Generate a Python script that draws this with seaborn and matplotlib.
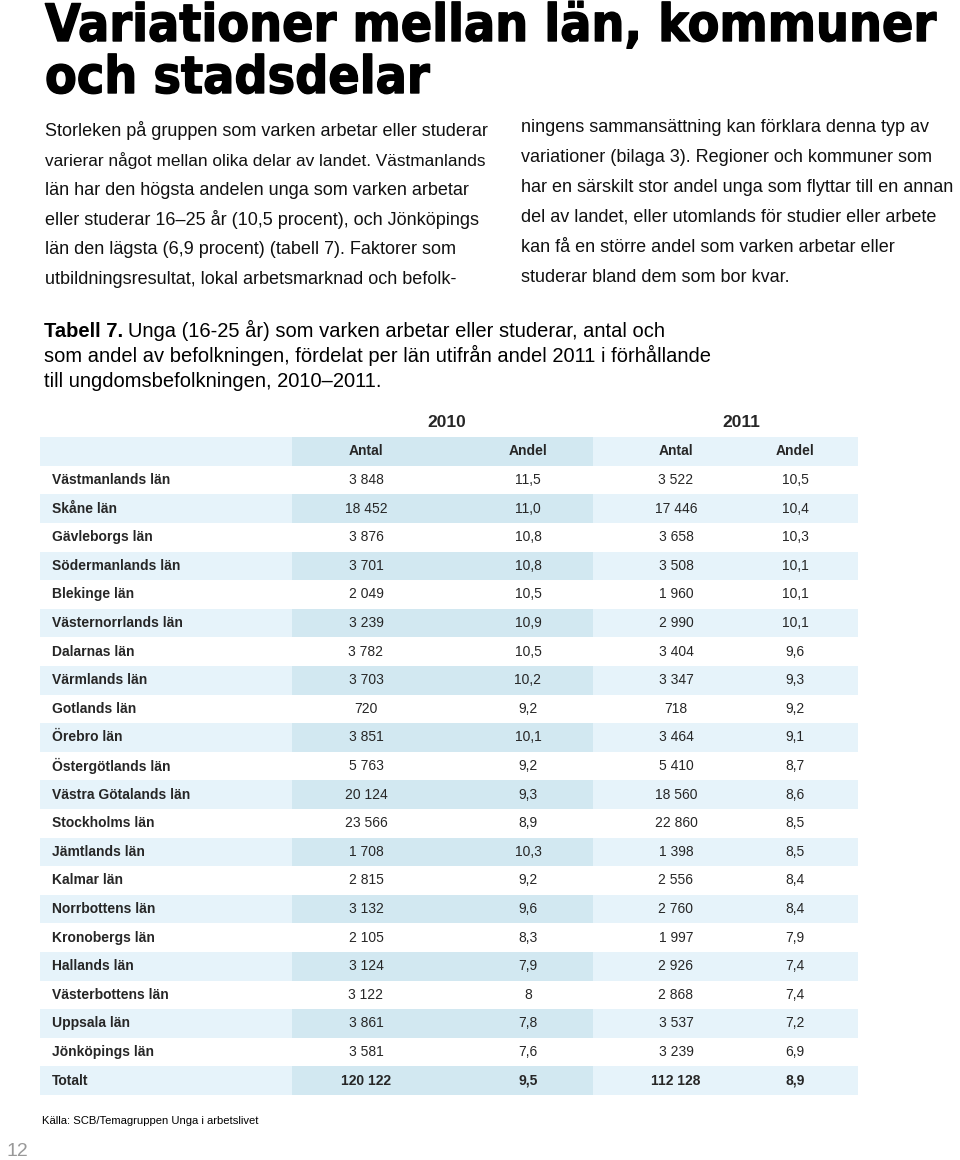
import numpy as np
import pandas as pd
import seaborn as sns
import matplotlib
matplotlib.use("Agg")
import matplotlib.pyplot as plt
import matplotlib.patheffects as pe
from matplotlib import font_manager as fm

# Data (Tabell 7)
lan = ["Västmanlands län", "Skåne län", "Gävleborgs län", "Södermanlands län",
       "Blekinge län", "Västernorrlands län", "Dalarnas län", "Värmlands län",
       "Gotlands län", "Örebro län", "Östergötlands län", "Västra Götalands län",
       "Stockholms län", "Jämtlands län", "Kalmar län", "Norrbottens län",
       "Kronobergs län", "Hallands län", "Västerbottens län", "Uppsala län",
       "Jönköpings län", "Totalt"]
antal_2010 = [3848, 18452, 3876, 3701, 2049, 3239, 3782, 3703, 720, 3851, 5763,
              20124, 23566, 1708, 2815, 3132, 2105, 3124, 3122, 3861, 3581, 120122]
andel_2010 = [11.5, 11.0, 10.8, 10.8, 10.5, 10.9, 10.5, 10.2, 9.2, 10.1, 9.2,
              9.3, 8.9, 10.3, 9.2, 9.6, 8.3, 7.9, 8, 7.8, 7.6, 9.5]
antal_2011 = [3522, 17446, 3658, 3508, 1960, 2990, 3404, 3347, 718, 3464, 5410,
              18560, 22860, 1398, 2556, 2760, 1997, 2926, 2868, 3537, 3239, 112128]
andel_2011 = [10.5, 10.4, 10.3, 10.1, 10.1, 10.1, 9.6, 9.3, 9.2, 9.1, 8.7,
              8.6, 8.5, 8.5, 8.4, 8.4, 7.9, 7.4, 7.4, 7.2, 6.9, 8.9]
years = ["2010", "2011"]
col_heads = ["Antal", "Andel", "Antal", "Andel"]

df = pd.DataFrame({"lan": lan, "antal_2010": antal_2010, "andel_2010": andel_2010,
                   "antal_2011": antal_2011, "andel_2011": andel_2011})


def fmt_antal(v):
    return f"{v:,}".replace(",", " ")


def fmt_andel(v):
    if isinstance(v, int):
        return str(v)
    return f"{v:.1f}".replace(".", ",")


sns.set_theme(style="white")
plt.rcParams['font.family'] = ['Liberation Sans', 'DejaVu Sans']

fig = plt.figure(figsize=(9.6, 11.6), dpi=100)
page = fig.add_axes([0, 0, 1, 1])
page.set_xlim(0, 960)
page.set_ylim(1160, 0)
page.axis('off')
fig.canvas.draw()
renderer = fig.canvas.get_renderer()

# Heading - look for a condensed bold face, otherwise plain bold
narrow = [f for f in fm.fontManager.ttflist
          if ('Narrow' in f.name or 'Condensed' in f.name or
              str(f.stretch).endswith('condensed'))
          and str(f.weight) in ('700', '800', '900', 'bold', 'heavy', 'black')]
if narrow:
    title_fp = fm.FontProperties(fname=narrow[0].fname)
    max_size = 44
else:
    title_fp = fm.FontProperties(family='Liberation Sans', weight='bold')
    max_size = 37
title_lines = [("Variationer mellan län, kommuner", 41), ("och stadsdelar", 93)]
probe = page.text(0, 0, title_lines[0][0], fontproperties=title_fp, fontsize=40)
w40 = probe.get_window_extent(renderer).width
probe.remove()
title_size = min(max_size, 40 * 890 / w40)
for txt, yb in title_lines:
    page.text(45, yb, txt, fontproperties=title_fp, fontsize=title_size,
              va='baseline', ha='left', color='black',
              path_effects=[pe.withStroke(linewidth=1.0, foreground='black')])

left_col = ["Storleken på gruppen som varken arbetar eller studerar",
            "varierar något mellan olika delar av landet. Västmanlands",
            "län har den högsta andelen unga som varken arbetar",
            "eller studerar 16–25 år (10,5 procent), och Jönköpings",
            "län den lägsta (6,9 procent) (tabell 7). Faktorer som",
            "utbildningsresultat, lokal arbetsmarknad och befolk-"]
right_col = ["ningens sammansättning kan förklara denna typ av",
             "variationer (bilaga 3). Regioner och kommuner som",
             "har en särskilt stor andel unga som flyttar till en annan",
             "del av landet, eller utomlands för studier eller arbete",
             "kan få en större andel som varken arbetar eller",
             "studerar bland dem som bor kvar."]
for i, line in enumerate(left_col):
    fs = 12.4 if i == 1 else 13
    page.text(45, 131 + i * 29.6, line, fontsize=fs, va='center', ha='left',
              color='#111111')
for i, line in enumerate(right_col):
    page.text(521, 127 + i * 30, line, fontsize=13, va='center', ha='left',
              color='#111111')

# Caption
cap_fs = 14.5
t = page.text(44, 337, "Tabell 7.", fontsize=cap_fs, fontweight='bold',
              va='baseline', ha='left', color='black')
bb = t.get_window_extent(renderer)
x_after = page.transData.inverted().transform((bb.x1, bb.y0))[0] + 5
page.text(x_after, 337, "Unga (16-25 år) som varken arbetar eller studerar, antal och",
          fontsize=cap_fs, va='baseline', ha='left', color='black')
page.text(44, 362, "som andel av befolkningen, fördelat per län utifrån andel 2011 i förhållande",
          fontsize=cap_fs, va='baseline', ha='left', color='black')
page.text(44, 387, "till ungdomsbefolkningen, 2010–2011.",
          fontsize=cap_fs, va='baseline', ha='left', color='black')

# Table
row_h = 28.6
top = 480 - 2.5 * row_h
bottom = 480 + 21.5 * row_h
tab = fig.add_axes([40 / 960, 1 - bottom / 1160, 818 / 960, (bottom - top) / 1160])
tab.set_xlim(40, 858)
tab.set_ylim(21.5, -2.5)
tab.axis('off')

light = '#e6f3fa'
dark = '#d2e8f1'
shaded = [-1] + [i for i in range(len(df)) if i % 2 == 1]
tab.barh(shaded, 252, left=40, height=1.0, color=light, linewidth=0)
tab.barh(shaded, 301, left=292, height=1.0, color=dark, linewidth=0)
tab.barh(shaded, 265, left=593, height=1.0, color=light, linewidth=0)

col_x = [366, 528, 676, 795]
for x, yr in zip([447, 741], years):
    tab.text(x, -2, yr, fontsize=12.5, fontweight='bold', ha='center', va='center')
for x, h in zip(col_x, col_heads):
    tab.text(x, -1, h, fontsize=10, fontweight='bold', ha='center', va='center')

for i, r in df.iterrows():
    w_val = 'bold' if r["lan"] == "Totalt" else 'normal'
    tab.text(52, i, r["lan"], fontsize=10, fontweight='bold', ha='left', va='center')
    vals = [fmt_antal(r["antal_2010"]), fmt_andel(andel_2010[i]),
            fmt_antal(r["antal_2011"]), fmt_andel(r["andel_2011"])]
    for x, v in zip(col_x, vals):
        tab.text(x, i, v, fontsize=10, fontweight=w_val, ha='center', va='center')

# Source and page number
page.text(42, 1121, "Källa: SCB/Temagruppen Unga i arbetslivet", fontsize=8.1,
          va='center', ha='left', color='black')
page.text(6, 1151, "12", fontsize=14, va='center', ha='left', color='#999999')

fig.savefig("out.png", dpi=100)
